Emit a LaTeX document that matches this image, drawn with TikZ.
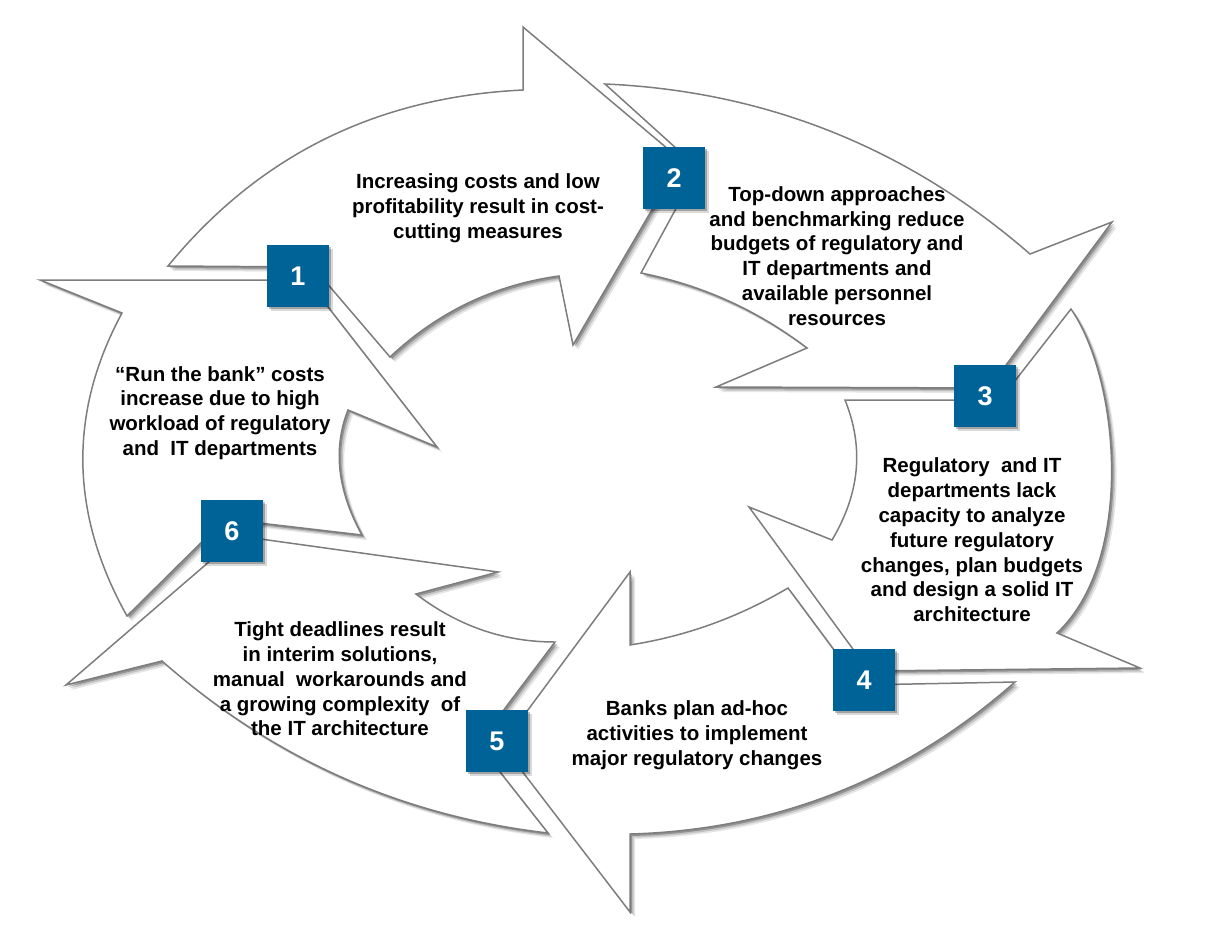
\documentclass[tikz,border=0pt]{standalone}
\usepackage{fontspec}
\setmainfont{Liberation Sans}
\usetikzlibrary{shadows}

\definecolor{azulcaja}{RGB}{0,99,152}
\definecolor{borde}{RGB}{125,125,125}

\begin{document}
\begin{tikzpicture}[
    x=1pt, y=-1pt,
    flecha/.style={
        draw=borde, line width=1.5pt, fill=white,
        drop shadow={shadow xshift=5pt, shadow yshift=-5pt, opacity=0.10, fill=black},
        drop shadow={shadow xshift=3.5pt, shadow yshift=-3.5pt, opacity=0.15, fill=black},
        drop shadow={shadow xshift=2pt, shadow yshift=-2pt, opacity=0.25, fill=black}
    },
    caja/.style={
        fill=azulcaja, text=white, minimum size=\lado pt, inner sep=0pt,
        font=\fontsize{27}{27}\selectfont\bfseries,
        drop shadow={shadow xshift=4pt, shadow yshift=-4pt, opacity=0.15, fill=black},
        drop shadow={shadow xshift=2pt, shadow yshift=-2pt, opacity=0.25, fill=black}
    },
    texto/.style={align=center, font=\fontsize{20.5}{24.8}\selectfont\bfseries}
]

\def\lado{62} % Lado de las cajas numeradas

% Marco de la figura
\useasboundingbox (0,0) rectangle (1209,927);

% Flecha superior (1 -> 2)
\draw[flecha] (168,266) -- (313,267) -- (390,357) .. controls (438,312) and (494,285) .. (559,276)
    -- (573,345) -- (681,160) -- (523,27) -- (523,90) .. controls (377,97) and (259,155) .. cycle;

% Flecha superior derecha (2 -> 3)
\draw[flecha] (605,84) -- (698,168) -- (641,273) .. controls (702,285) and (757,310) .. (807,348)
    -- (716,387) -- (989,388) -- (1112,222) -- (1030,254) .. controls (908,148) and (766,91) .. cycle;

% Flecha derecha (3 -> 4)
\draw[flecha] (845,400) -- (1000,400) -- (1071,309) .. controls (1120,380) and (1135,560) .. (1057,633)
    -- (1140,668) -- (869,671) -- (749,507) -- (832,540) .. controls (860,493) and (864,447) .. cycle;

% Flecha inferior (4 -> 5)
\draw[flecha] (788,588) -- (860,685) -- (1015,682) .. controls (905,779) and (776,830) .. (630,834)
    -- (630,912) -- (502,745) -- (630,572) -- (630,645) .. controls (687,636) and (739,617) .. cycle;

% Flecha inferior izquierda (5 -> 6)
\draw[flecha] (555,642) -- (478,744) -- (548,833) .. controls (401,816) and (272,758) .. (162,661)
    -- (66,685) -- (239,536) -- (498,572) -- (416,594) .. controls (458,626) and (504,642) .. cycle;

% Flecha izquierda (6 -> 1)
\draw[flecha] (362,535) -- (225,519) -- (127,616) .. controls (70,514) and (68,413) .. (122,313)
    -- (40,280) -- (307,280) -- (437,447) -- (348,410) .. controls (333,448) and (337,490) .. cycle;

% Cajas numeradas
\node[caja] (n1) at (298,276) {1};
\node[caja] (n2) at (674,178) {2};
\node[caja] (n3) at (985,396) {3};
\node[caja] (n4) at (864,680) {4};
\node[caja] (n5) at (497,741) {5};
\node[caja] (n6) at (232,531) {6};

% Textos de cada etapa
\node[texto] (t1) at (478,208) {Increasing costs and low\\profitability result in cost-\\cutting measures};
\node[texto] (t2) at (837,256) {Top-down approaches\\and benchmarking reduce\\budgets of regulatory and\\IT departments and\\available personnel\\resources};
\node[texto] (t3) at (972,540) {Regulatory~ and IT\\departments lack\\capacity to analyze\\future regulatory\\changes, plan budgets\\and design a solid IT\\architecture};
\node[texto] (t4) at (697,735) {Banks plan ad-hoc\\activities to implement\\major regulatory changes};
\node[texto] (t5) at (340,679) {Tight deadlines result\\in interim solutions,\\manual~ workarounds and\\a growing complexity~ of\\the IT architecture};
\node[texto] (t6) at (220,413) {“Run the bank” costs\\increase due to high\\workload of regulatory\\and~ IT departments};

\end{tikzpicture}
\end{document}
